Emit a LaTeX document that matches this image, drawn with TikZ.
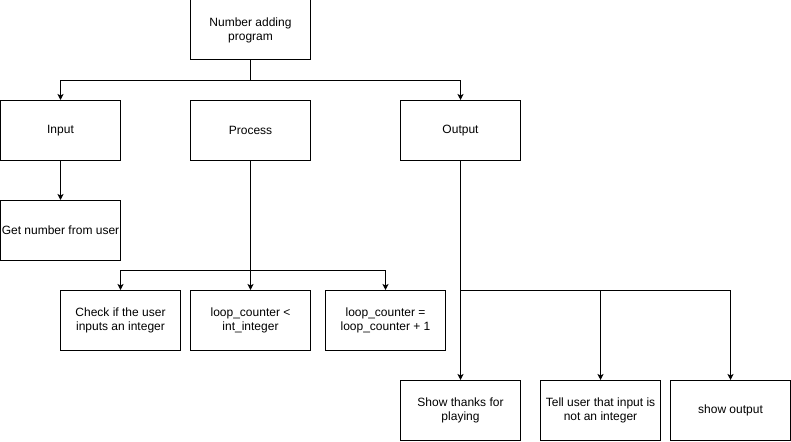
\documentclass[tikz,border=0pt]{standalone}
\usepackage{fontspec}
\setmainfont{Liberation Sans}
\usetikzlibrary{arrows.meta}
\begin{document}
\begin{tikzpicture}[x=1pt,y=-1pt,
  box/.style={draw=black,line width=1pt,minimum width=120pt,minimum height=60pt,
    inner sep=0pt,align=center,font=\fontsize{12}{14}\selectfont},
  conn/.style={line width=1pt,draw=black},
  arr/.style={conn,-{Stealth[length=6pt,width=6pt,inset=1.5pt]}}]
\useasboundingbox (0,0) rectangle (791,441);
\fill[white] (0,0) rectangle (791,441);
\node[box] (top) at (250.5,30) {Number adding\\program};
\node[box] (input) at (60.5,130.5) {Input};
\node[box] (process) at (250.5,130.5) {Process};
\node[box] (output) at (460.5,130.5) {Output};
\node[box] (get) at (60.5,230.5) {Get number from user};
\node[box] (check) at (120.5,320.5) {Check if the user\\inputs an integer};
\node[box] (lt) at (250.5,320.5) {loop\_counter <\\int\_integer};
\node[box] (inc) at (385.5,320.5) {loop\_counter =\\loop\_counter + 1};
\node[box] (thanks) at (460.5,410.5) {Show thanks for\\playing};
\node[box] (tell) at (600.5,410.5) {Tell user that input is\\not an integer};
\node[box] (show) at (730.5,410.5) {show output};
\coordinate (j1) at (250.5,80.5);
\coordinate (j2) at (250.5,270.5);
\coordinate (j3) at (460.5,290.5);
\draw[conn] (top.south) -- (j1);
\draw[arr] (j1) -| (input.north);
\draw[arr] (j1) -| (output.north);
\draw[arr] (input.south) -- (get.north);
\draw[conn] (process.south) -- (j2);
\draw[arr] (j2) -| (check.north);
\draw[arr] (j2) -- (lt.north);
\draw[arr] (j2) -| (inc.north);
\draw[arr] (output.south) -- (thanks.north);
\draw[arr] (j3) -| (tell.north);
\draw[arr] (j3) -| (show.north);
\end{tikzpicture}
\end{document}
